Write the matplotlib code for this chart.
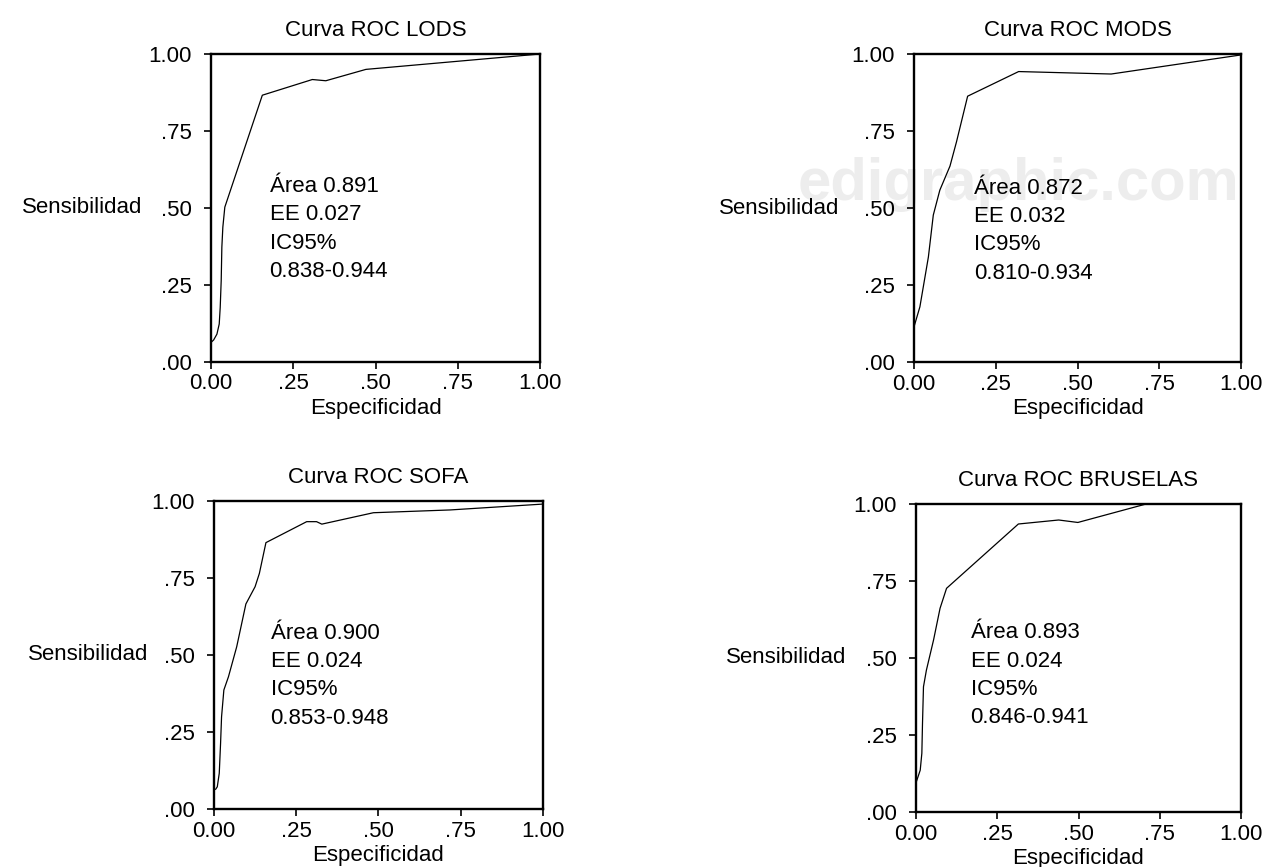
import matplotlib
matplotlib.use("Agg")
import matplotlib.pyplot as plt

plt.rcParams['font.family'] = ['Liberation Sans', 'DejaVu Sans']

# curve points (1 - specificity axis labelled Especificidad)
lods_x = [0, 0.008, 0.018, 0.025, 0.028, 0.031, 0.033, 0.036, 0.042, 0.156, 0.308, 0.349, 0.471, 1.0]
lods_y = [0.062, 0.070, 0.089, 0.122, 0.176, 0.263, 0.372, 0.437, 0.502, 0.866, 0.917, 0.913, 0.950, 1.0]

mods_x = [0, 0.018, 0.044, 0.059, 0.079, 0.110, 0.130, 0.164, 0.320, 0.603, 1.0]
mods_y = [0.114, 0.179, 0.341, 0.477, 0.558, 0.636, 0.715, 0.863, 0.943, 0.935, 0.997]

sofa_x = [0.005, 0.010, 0.016, 0.020, 0.023, 0.030, 0.044, 0.069, 0.097, 0.125, 0.138, 0.158,
          0.282, 0.312, 0.328, 0.485, 0.718, 1.0]
sofa_y = [0.064, 0.072, 0.116, 0.213, 0.299, 0.386, 0.429, 0.526, 0.665, 0.721, 0.764, 0.864,
          0.932, 0.932, 0.924, 0.961, 0.970, 0.989]

brus_x = [0, 0.013, 0.018, 0.020, 0.023, 0.032, 0.054, 0.074, 0.094, 0.315, 0.439, 0.498, 0.708, 1.0]
brus_y = [0.094, 0.135, 0.190, 0.287, 0.406, 0.460, 0.558, 0.661, 0.726, 0.935, 0.948, 0.940, 1.0, 1.0]

titles = ["Curva ROC LODS", "Curva ROC MODS", "Curva ROC SOFA", "Curva ROC BRUSELAS"]
stats = [
    ["Área 0.891", "EE 0.027", "IC95%", "0.838-0.944"],
    ["Área 0.872", "EE 0.032", "IC95%", "0.810-0.934"],
    ["Área 0.900", "EE 0.024", "IC95%", "0.853-0.948"],
    ["Área 0.893", "EE 0.024", "IC95%", "0.846-0.941"],
]
curves = [(lods_x, lods_y), (mods_x, mods_y), (sofa_x, sofa_y), (brus_x, brus_y)]

ticks = [0, 0.25, 0.5, 0.75, 1.0]
xticklabels = ["0.00", ".25", ".50", ".75", "1.00"]
yticklabels = [".00", ".25", ".50", ".75", "1.00"]

W, H = 1264, 867
# axes boxes in pixels: left, top, right, bottom
boxes = [(211, 54, 540, 361.5), (914, 54, 1241, 362), (214, 500.7, 542.7, 809), (916, 504, 1241, 811.7)]
text_pos = [(0.178, 0.551), (0.184, 0.547), (0.172, 0.553), (0.168, 0.563)]
ylab_x = [-0.21, -0.228, -0.20, -0.215]

fs = 16
fig = plt.figure(figsize=(W / 100, H / 100), dpi=100)

# faint watermark of the source site
fig.text(1018 / W, 1 - 200 / H, "edigraphic.com", fontsize=43, fontweight='bold',
         color='#ededed', ha='center', va='baseline', zorder=-1)

for i in range(4):
    l, t, r, b = boxes[i]
    ax = fig.add_axes([l / W, 1 - b / H, (r - l) / W, (b - t) / H])
    ax.set_facecolor('none')
    x, y = curves[i]
    ax.plot(x, y, color='black', lw=0.9)
    ax.set_xlim(0, 1)
    ax.set_ylim(0, 1)
    ax.set_xticks(ticks)
    ax.set_xticklabels(xticklabels)
    ax.set_yticks(ticks)
    ax.set_yticklabels(yticklabels)
    ax.tick_params(direction='out', length=5, width=1.2, labelsize=fs, pad=3.5)
    ax.tick_params(axis='y', pad=9)
    for s in ax.spines.values():
        s.set_linewidth(1.7)
    ax.set_title(titles[i], fontsize=fs, pad=13)
    ax.set_xlabel("Especificidad", fontsize=fs, labelpad=2.5)
    ax.set_ylabel("Sensibilidad", fontsize=fs, rotation=0, ha='right', va='center')
    ax.yaxis.set_label_coords(ylab_x[i], 0.5)
    tx, ty = text_pos[i]
    for k, line in enumerate(stats[i]):
        ax.text(tx, ty - k * 0.092, line, fontsize=fs, va='baseline', ha='left')

fig.savefig("out.png", dpi=100)
